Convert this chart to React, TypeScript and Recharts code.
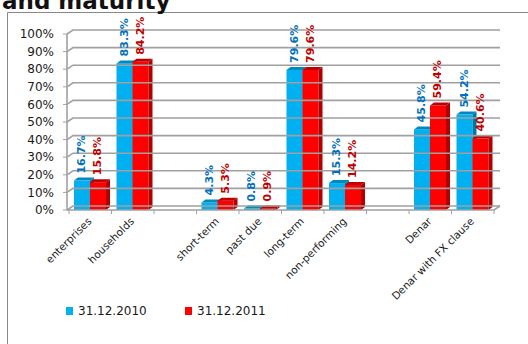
import React from 'react';
import { BarChart, Bar, XAxis, YAxis, LabelList } from 'recharts';

const categories = ['enterprises', 'households', '', 'short-term', 'past due', 'long-term', 'non-performing', '', 'Denar', 'Denar with FX clause'];
const series2010 = [16.7, 83.3, null, 4.3, 0.8, 79.6, 15.3, null, 45.8, 54.2];
const series2011 = [15.8, 84.2, null, 5.3, 0.9, 79.6, 14.2, null, 59.4, 40.6];
const yTicks = [0, 10, 20, 30, 40, 50, 60, 70, 80, 90, 100];
const seriesNames = ['31.12.2010', '31.12.2011'];
const titleText = 'and maturity';

const data = categories.map((c, i) => ({ name: c, s2010: series2010[i], s2011: series2011[i] }));

const W = 528;
const H = 344;
const PLOT_LEFT = 69;
const PLOT_RIGHT = 494;
const PLOT_TOP = 34;
const PLOT_BOTTOM = 210;
const WALL_X = 67;
const GDX = 6;
const GDY = 4;
const BDX = 4;
const BDY = 3;
const GRID = '#a0a0a0';
const FONT = 'DejaVu Sans';

const YTick = (props: any) => {
  const { y, payload } = props;
  const v = payload.value;
  return (
    <g>
      <polyline
        points={`${WALL_X},${y} ${WALL_X + GDX},${y - GDY} ${PLOT_RIGHT + GDX},${y - GDY}`}
        fill="none"
        stroke={GRID}
        strokeWidth={1.6}
      />
      {v === 0 && (
        <>
          <polyline
            points={`${WALL_X},${y} ${PLOT_RIGHT},${y} ${PLOT_RIGHT + GDX},${y - GDY}`}
            fill="none"
            stroke={GRID}
            strokeWidth={1.6}
          />
          <line x1={WALL_X} y1={y} x2={WALL_X} y2={PLOT_TOP} stroke={GRID} strokeWidth={1.6} />
        </>
      )}
      <line x1={WALL_X} y1={y} x2={WALL_X - 4} y2={y} stroke={GRID} strokeWidth={1} />
      <text x={54} y={y} dy="0.35em" textAnchor="end" fontFamily={FONT} fontSize={12} fill="#1a1a1a">
        {`${v}%`}
      </text>
    </g>
  );
};

const XTick = (props: any) => {
  const { x, payload, index } = props;
  const bw = (PLOT_RIGHT - PLOT_LEFT) / categories.length;
  const lx = x + 2;
  const ly = PLOT_BOTTOM + 12;
  return (
    <g>
      <line x1={x - bw / 2} y1={PLOT_BOTTOM} x2={x - bw / 2} y2={PLOT_BOTTOM + 4} stroke={GRID} strokeWidth={1} />
      {index === categories.length - 1 && (
        <line x1={x + bw / 2} y1={PLOT_BOTTOM} x2={x + bw / 2} y2={PLOT_BOTTOM + 4} stroke={GRID} strokeWidth={1} />
      )}
      {payload.value !== '' && (
        <text
          x={lx}
          y={ly}
          textAnchor="end"
          transform={`rotate(-45 ${lx} ${ly})`}
          fontFamily={FONT}
          fontSize={10.5}
          fill="#1a1a1a"
        >
          {payload.value}
        </text>
      )}
    </g>
  );
};

const make3D = (front: string, top: string, side: string) => (props: any) => {
  const { x, y, width, height } = props;
  if (height == null || !isFinite(y) || !isFinite(height)) return <g />;
  return (
    <g>
      <rect x={x} y={y} width={width} height={height} fill={front} />
      <polygon points={`${x},${y} ${x + BDX},${y - BDY} ${x + width + BDX},${y - BDY} ${x + width},${y}`} fill={top} />
      <polygon
        points={`${x + width},${y} ${x + width + BDX},${y - BDY} ${x + width + BDX},${y + height - BDY} ${x + width},${y + height}`}
        fill={side}
      />
    </g>
  );
};

const makeLabel = (color: string) => (props: any) => {
  const { x, y, width, value } = props;
  if (value == null) return null;
  const cx = x + width / 2;
  const ty = y - 7;
  return (
    <text
      x={cx}
      y={ty}
      transform={`rotate(-90 ${cx} ${ty})`}
      textAnchor="start"
      dominantBaseline="central"
      fill={color}
      fontWeight="bold"
      fontSize={11}
      fontFamily={FONT}
    >
      {`${Number(value).toFixed(1)}%`}
    </text>
  );
};

export default function App() {
  return (
    <div style={{ position: 'absolute', left: 0, top: 0, width: W, height: H, overflow: 'hidden', background: '#fff' }}>
      <svg width={W} height={H} style={{ position: 'absolute', left: 0, top: 0 }}>
        <line x1={7.5} y1={12.5} x2={W} y2={12.5} stroke="#888" strokeWidth={1} />
        <line x1={7.5} y1={12.5} x2={7.5} y2={H} stroke="#888" strokeWidth={1} />
        <text x={2} y={9} fontFamily={FONT} fontWeight="bold" fontSize={23} fill="#111">
          {titleText}
        </text>
      </svg>
      <div style={{ position: 'absolute', left: 0, top: 0 }}>
        <BarChart
          width={W}
          height={H}
          data={data}
          margin={{ top: PLOT_TOP, right: W - PLOT_RIGHT, bottom: 0, left: 0 }}
          barGap={0}
        >
          <YAxis
            type="number"
            domain={[0, 100]}
            ticks={yTicks}
            width={PLOT_LEFT}
            axisLine={false}
            tickLine={false}
            tick={<YTick />}
            interval={0}
          />
          <XAxis
            dataKey="name"
            height={H - PLOT_BOTTOM}
            axisLine={false}
            tickLine={false}
            interval={0}
            tick={<XTick />}
          />
          <Bar dataKey="s2010" name={seriesNames[0]} barSize={16} isAnimationActive={false} shape={make3D('#00b0f0', '#0089c0', '#0079aa')}>
            <LabelList dataKey="s2010" content={makeLabel('#0070c0')} />
          </Bar>
          <Bar dataKey="s2011" name={seriesNames[1]} barSize={16} isAnimationActive={false} shape={make3D('#ff0000', '#c00000', '#b00000')}>
            <LabelList dataKey="s2011" content={makeLabel('#c00000')} />
          </Bar>
        </BarChart>
      </div>
      <div style={{ position: 'absolute', left: 66, top: 307, width: 7, height: 8, background: '#00b0f0' }} />
      <div style={{ position: 'absolute', left: 78, top: 303, fontFamily: FONT, fontSize: 12, color: '#1a1a1a', lineHeight: '16px', whiteSpace: 'nowrap' }}>
        {seriesNames[0]}
      </div>
      <div style={{ position: 'absolute', left: 185, top: 307, width: 7, height: 8, background: '#ff0000' }} />
      <div style={{ position: 'absolute', left: 197, top: 303, fontFamily: FONT, fontSize: 12, color: '#1a1a1a', lineHeight: '16px', whiteSpace: 'nowrap' }}>
        {seriesNames[1]}
      </div>
    </div>
  );
}
